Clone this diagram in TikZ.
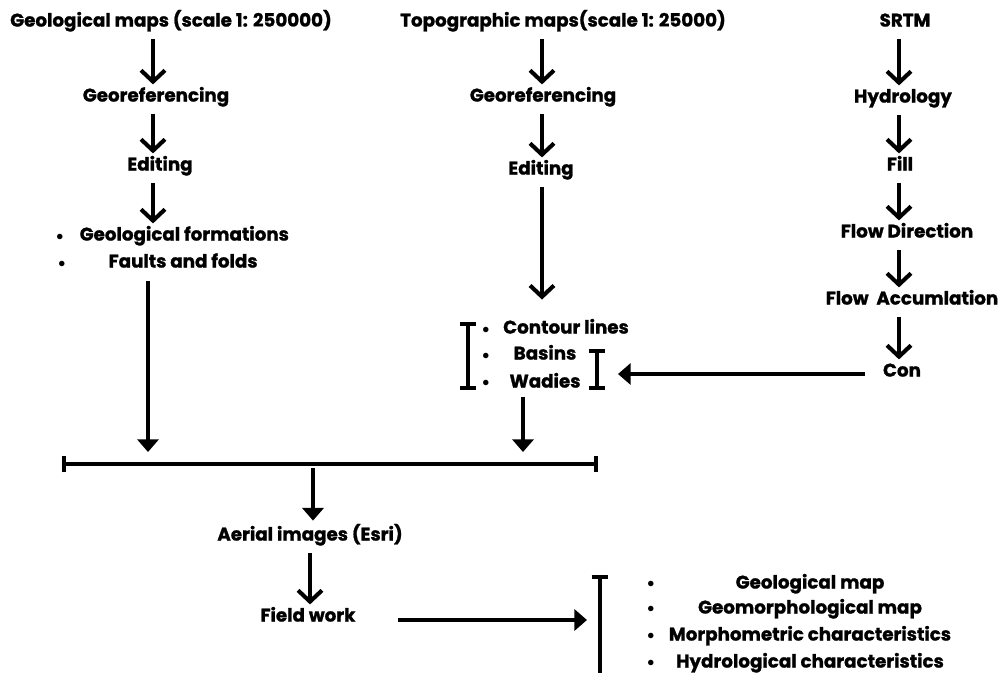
\documentclass[tikz,border=0pt]{standalone}
\usepackage{fontspec}
\setmainfont{Poppins}[BoldFeatures={FakeBold=1.2}]
\usetikzlibrary{positioning, arrows.meta}

\begin{document}
\begin{tikzpicture}[
    x=0.025cm, y=-0.025cm,
    % Text
    step_text/.style={font=\bfseries\fontsize{13}{15}\selectfont, inner sep=1pt,
        text height=9pt, text depth=2.5pt},
    dot/.style={font=\fontsize{10}{11}\selectfont, inner sep=0pt},
    % Connectors
    arr/.style={-{Straight Barb[length=8pt, width=17pt]}, line width=2.9pt,
        shorten <=5pt, shorten >=2pt},
    farr/.style={-{Triangle[length=9pt, width=15pt]}, line width=2.9pt},
    bar/.style={{Bar[width=12pt]}-{Bar[width=12pt]}, line width=2.7pt}
]
    \useasboundingbox (0,0) rectangle (999,672);

    % --- COLUMN AXES ---
    \coordinate (c1) at (153,0);
    \coordinate (c2) at (542,0);
    \coordinate (c3) at (899,0);

    % --- GEOLOGICAL MAPS ---
    \node[step_text] (gmap) at (171,22) {Geological maps (scale 1: 250000)};
    \node[step_text] (geo1) at (156,97) {Georeferencing};
    \node[step_text] (edit1) at (160,166) {Editing};
    \node[step_text, anchor=west] (gform) at (78,236) {Geological formations};
    \node[step_text, anchor=west] (fault) at (107,263) {Faults and folds};
    \node[dot] (b1) at (60,237) {$\bullet$};
    \node[dot] (b2) at (62,264) {$\bullet$};

    % --- TOPOGRAPHIC MAPS ---
    \node[step_text] (tmap) at (563,22) {Topographic maps(scale 1: 25000)};
    \node[step_text] (geo2) at (543,97) {Georeferencing};
    \node[step_text] (edit2) at (541,170) {Editing};
    \node[step_text] (cont) at (566,329) {Contour lines};
    \node[step_text] (basin) at (545,355) {Basins};
    \node[step_text] (wadi) at (545,383) {Wadies};
    \foreach \y/\n in {330/3, 356/4, 383/5} {
        \node[dot] (b\n) at (486,\y) {$\bullet$};
    }

    % --- SRTM ---
    \node[step_text] (srtm) at (905,22) {SRTM};
    \node[step_text] (hydro) at (903,98) {Hydrology};
    \node[step_text] (fill) at (900,166) {Fill};
    \node[step_text] (fdir) at (907,233) {Flow Direction};
    \node[step_text] (facc) at (912,300) {Flow\ \ Accumlation};
    \node[step_text] (con) at (902,372) {Con};

    % --- LOWER PART ---
    \node[step_text] (aerial) at (310,536) {Aerial images (Esri)};
    \node[step_text] (field) at (308,617) {Field work};
    \node[step_text] (omap1) at (810,584) {Geological map};
    \node[step_text] (omap2) at (810,609) {Geomorphological map};
    \node[step_text] (omap3) at (810,636) {Morphometric characteristics};
    \node[step_text] (omap4) at (810,663) {Hydrological characteristics};
    \foreach \y/\n in {584/6, 609/7, 636/8, 663/9} {
        \node[dot] (b\n) at (651,\y) {$\bullet$};
    }

    % --- BRACKETS AND BAR ---
    \coordinate (barL) at (62,464);
    \coordinate (barR) at (598,464);
    \draw[bar] (barL) -- (barR);
    \draw[bar] (468,322) -- (468,390);
    \draw[bar] (597,349) -- (597,390);
    \draw[{Bar[width=12pt]}-, line width=2.7pt] (600,575) -- (600,680);

    % --- ARROWS: LEFT COLUMN ---
    \draw[arr] (gmap.south -| c1) -- (geo1.north -| c1);
    \draw[arr] (geo1.south -| c1) -- (edit1.north -| c1);
    \draw[arr] (edit1.south -| c1) -- (gform.north -| c1);
    \coordinate (in1) at (148,452);
    \draw[farr] (fault.south -| in1) ++(0,8) -- (in1);

    % --- ARROWS: MIDDLE COLUMN ---
    \draw[arr] (tmap.south -| c2) -- (geo2.north -| c2);
    \draw[arr] (geo2.south -| c2) -- (edit2.north -| c2);
    \draw[arr, shorten >=14pt] (edit2.south -| c2) -- (cont.north -| c2);
    \coordinate (in2) at (523,452);
    \draw[farr] (wadi.south -| in2) ++(0,4) -- (in2);

    % --- ARROWS: RIGHT COLUMN ---
    \draw[arr] (srtm.south -| c3) -- (hydro.north -| c3);
    \draw[arr] (hydro.south -| c3) -- (fill.north -| c3);
    \draw[arr] (fill.south -| c3) -- (fdir.north -| c3);
    \draw[arr] (fdir.south -| c3) -- (facc.north -| c3);
    \draw[arr] (facc.south -| c3) -- (con.north -| c3);
    \coordinate (in3) at (618,374);
    \draw[farr] (865,374) -- (in3);

    % --- ARROWS: LOWER PART ---
    \coordinate (out1) at (313,468);
    \draw[farr] (out1) -- ([yshift=4pt]aerial.north -| out1);
    \draw[arr] (aerial.south -| 310,0) -- (field.north -| 310,0);
    \coordinate (in4) at (587,620);
    \draw[farr] (398,620) -- (in4);

\end{tikzpicture}
\end{document}
